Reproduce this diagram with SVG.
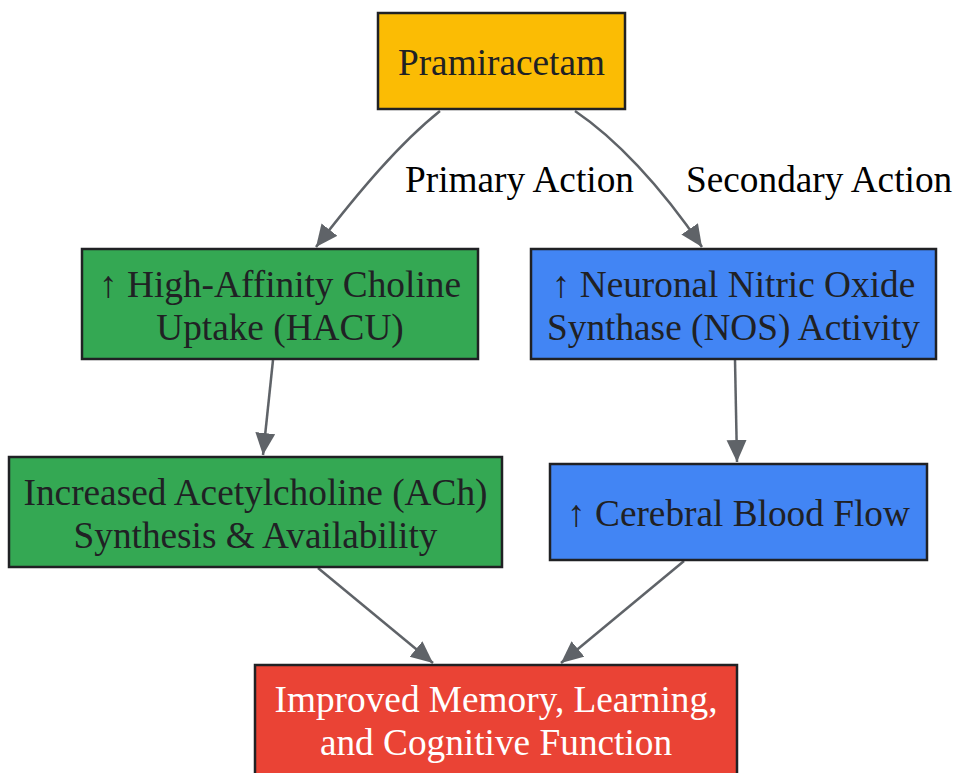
<svg xmlns="http://www.w3.org/2000/svg" width="954" height="773" viewBox="0 0 954 773">
<defs>
<marker id="ah" markerUnits="userSpaceOnUse" markerWidth="24" markerHeight="22" refX="22" refY="10" orient="auto">
<path d="M0,0 L22,10 L0,20 z" fill="#5f6368"/>
</marker>
<style>
.n{stroke:#202124;stroke-width:2.5}
.t{font-family:"Liberation Serif","Times New Roman",serif;font-size:37.3px;text-anchor:middle;fill:#202124}
.w{fill:#ffffff}
.l{font-family:"Liberation Serif","Times New Roman",serif;font-size:37.3px;fill:#000000}
.e{fill:none;stroke:#5f6368;stroke-width:2.5;marker-end:url(#ah)}
</style>
</defs>
<rect width="954" height="773" fill="#ffffff"/>
<g id="edges">
<path class="e" d="M440,111 C400,143 360,190 316,247"/>
<path class="e" d="M575,111 C615,138 660,185 702,247"/>
<path class="e" d="M273,360 L263,455"/>
<path class="e" d="M735,360 L737,462"/>
<path class="e" d="M318,568 L433,663"/>
<path class="e" d="M684,561 L561,663"/>
<text class="l" x="405" y="192">Primary Action</text>
<text class="l" x="686" y="192">Secondary Action</text>
</g>
<g id="pramiracetam">
<rect class="n" x="378" y="13" width="247" height="96" fill="#fbbc04"/>
<text class="t" x="501.5" y="75">Pramiracetam</text>
</g>
<g id="hacu">
<rect class="n" x="82" y="249" width="396" height="110" fill="#34a853"/>
<text class="t" x="280" y="297">↑ High-Affinity Choline</text>
<text class="t" x="280" y="340">Uptake (HACU)</text>
</g>
<g id="nos">
<rect class="n" x="531" y="249" width="405" height="110" fill="#4285f4"/>
<text class="t" x="733.5" y="297">↑ Neuronal Nitric Oxide</text>
<text class="t" x="733.5" y="340">Synthase (NOS) Activity</text>
</g>
<g id="ach">
<rect class="n" x="9" y="457" width="493" height="110" fill="#34a853"/>
<text class="t" x="255.5" y="505">Increased Acetylcholine (ACh)</text>
<text class="t" x="255.5" y="548">Synthesis &amp; Availability</text>
</g>
<g id="cbf">
<rect class="n" x="550" y="464" width="377" height="96" fill="#4285f4"/>
<text class="t" x="738.5" y="526">↑ Cerebral Blood Flow</text>
</g>
<g id="improved">
<rect class="n" x="255" y="665" width="482" height="120" fill="#ea4335"/>
<text class="t w" x="496" y="712">Improved Memory, Learning,</text>
<text class="t w" x="496" y="755">and Cognitive Function</text>
</g>
</svg>
